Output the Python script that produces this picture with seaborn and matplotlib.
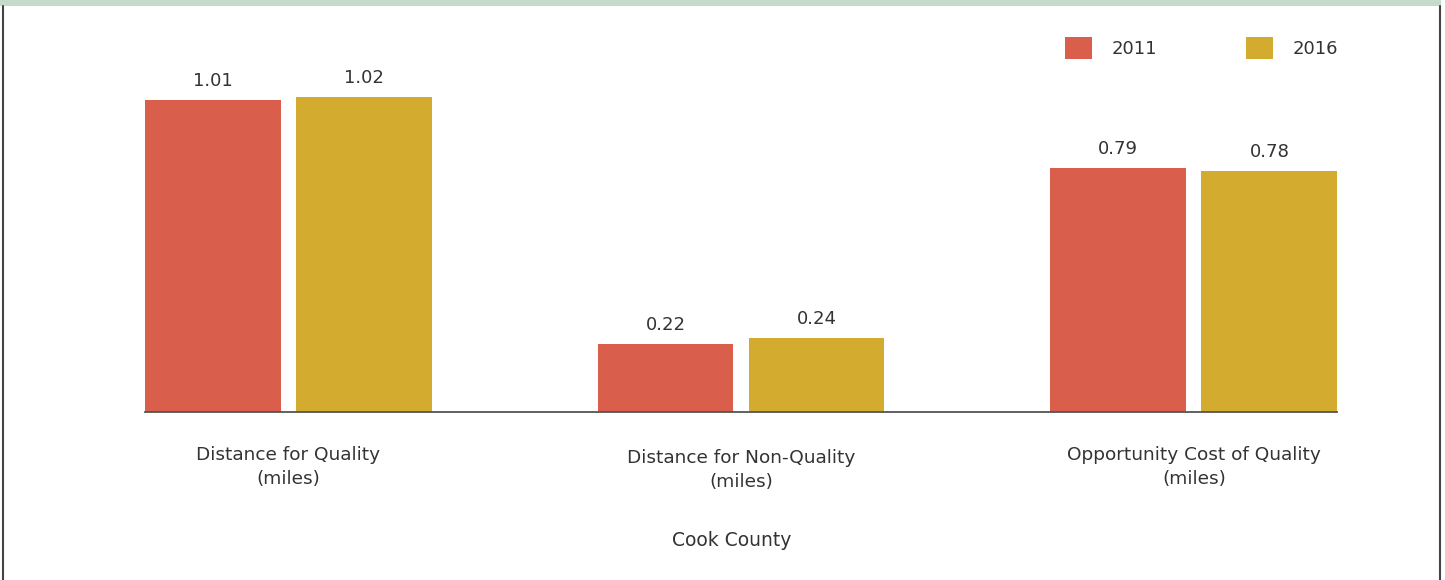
import pandas as pd
import matplotlib.pyplot as plt
import seaborn as sns
from matplotlib.lines import Line2D
from matplotlib.patches import Rectangle
from matplotlib.transforms import ScaledTranslation

# --- chart data ---
categories = ["Distance for Quality\n(miles)",
              "Distance for Non-Quality\n(miles)",
              "Opportunity Cost of Quality\n(miles)"]
years = ["2011", "2016"]
vals_2011 = [1.01, 0.22, 0.79]
vals_2016 = [1.02, 0.24, 0.78]
x_title = "Cook County"

colors = ["#D95F4C", "#D3AC2F"]
text_col = "#333333"

df = pd.DataFrame({
    "category": categories * 2,
    "year": [years[0]] * 3 + [years[1]] * 3,
    "value": vals_2011 + vals_2016,
})

sns.set_theme(style="white")
plt.rcParams["font.family"] = ["DejaVu Sans"]

fig = plt.figure(figsize=(14.45, 5.8), dpi=100)
ax = fig.add_axes([145 / 1445, 168 / 580, 1192 / 1445, 372 / 580])

sns.barplot(data=df, x="category", y="value", hue="year",
            palette=colors, width=0.667, gap=0.1, ax=ax,
            saturation=1, legend=True, linewidth=0, edgecolor="none")

for cont in ax.containers:
    ax.bar_label(cont, fmt="%.2f", padding=7, fontsize=13, color=text_col)

ax.set_xlim(-0.316, 2.316)
ax.set_ylim(0, 1.204)
ax.set_yticks([])
ax.set_ylabel("")
for s in ["top", "left", "right"]:
    ax.spines[s].set_visible(False)
ax.spines["bottom"].set_color("#555555")
ax.spines["bottom"].set_linewidth(1.3)

ax.tick_params(axis="x", length=0, pad=24.5, labelsize=13.3, labelcolor=text_col)
for lbl in ax.get_xticklabels():
    lbl.set_linespacing(1.4)
mid = ax.get_xticklabels()[1]
mid.set_transform(mid.get_transform() + ScaledTranslation(0, -0.03, fig.dpi_scale_trans))

ax.set_xlabel(x_title, fontsize=13.5, color=text_col)
ax.xaxis.set_label_coords(0.492, -0.32)

handles, labels = ax.get_legend_handles_labels()
ax.legend(handles, labels, ncol=2, frameon=False, fontsize=13,
          labelcolor=text_col, handlelength=1.5, handleheight=1.5,
          handletextpad=1.05, columnspacing=4.95,
          loc="center left", bbox_to_anchor=(1058 / 1445, 1 - 48 / 580),
          bbox_transform=fig.transFigure, borderaxespad=0)

# frame decorations
fig.add_artist(Rectangle((0, 1 - 6 / 580), 1441 / 1445, 6 / 580,
                         transform=fig.transFigure, color="#C4DACB", lw=0))
fig.add_artist(Line2D([3.5 / 1445, 3.5 / 1445], [0, 1 - 6 / 580],
                      transform=fig.transFigure, color="#444444", lw=1.5))
fig.add_artist(Line2D([1439.5 / 1445, 1439.5 / 1445], [0, 1 - 6 / 580],
                      transform=fig.transFigure, color="#444444", lw=1.5))

fig.savefig("out.png", dpi=100)
